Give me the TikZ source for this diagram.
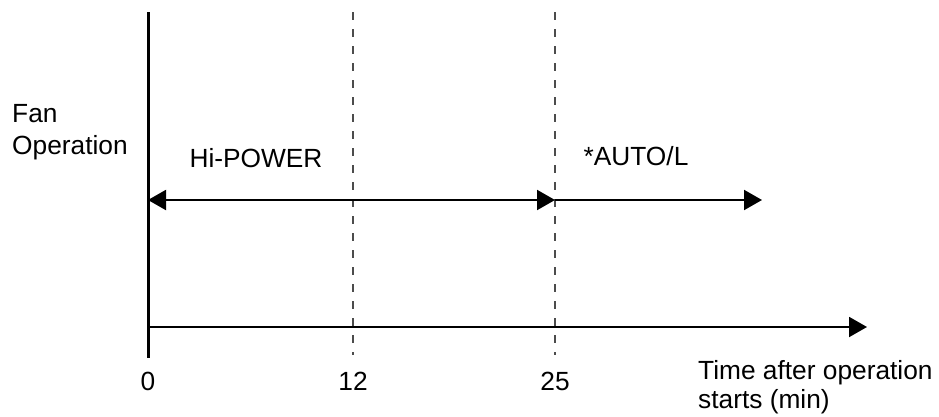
\documentclass[tikz,border=0pt]{standalone}
\usepackage{fontspec}
\setmainfont{Liberation Sans}
\usetikzlibrary{arrows.meta}
\tikzset{
  lbl/.style={inner sep=0pt,font=\fontsize{26.3}{29.5}\selectfont},
  tip/.tip={Triangle[length=18pt,width=20pt]},
  phase/.style={line width=2pt},
  guide/.style={gray!60!black,line width=1.3pt,dash pattern=on 8pt off 9pt},
}
\begin{document}
\begin{tikzpicture}[x=1pt,y=-1pt]
\useasboundingbox (0,0) rectangle (939,416);
% marks on the time axis
\coordinate (top0) at (148,12);
\coordinate (bot0) at (148,358);
\coordinate (top12) at (353,12);
\coordinate (bot12) at (353,355);
\coordinate (top25) at (555,12);
\coordinate (bot25) at (555,355);
\draw[guide] (top12) -- (bot12);
\draw[guide] (top25) -- (bot25);
\draw[line width=3pt] (top0) -- (bot0);
% axis
\coordinate (ax0) at (148,327);
\coordinate (axend) at (867,327);
\draw[phase,-tip] (ax0) -- (axend);
% fan phases
\coordinate (run0) at (148,200);
\coordinate (run25) at (555,200);
\coordinate (runend) at (762,200);
\draw[phase,tip-tip] (run0) -- (run25);
\draw[phase,-tip] (run25) -- (runend);
\node[lbl,anchor=base] (hipower) at (256,167) {Hi-POWER};
\node[lbl,anchor=base] (autol) at (636,165) {*AUTO/L};
\node[lbl,anchor=north west,align=left,font=\fontsize{26.3}{32}\selectfont] (fanlabel) at (12,104) {Fan\\Operation};
% time labels
\node[lbl,anchor=base] (t0) at (148,390) {0};
\node[lbl,anchor=base] (t12) at (353,390) {12};
\node[lbl,anchor=base] (t25) at (555,390) {25};
\node[lbl,anchor=north west,align=left] (timelabel) at (698,360) {Time after operation\\starts (min)};
\end{tikzpicture}
\end{document}
